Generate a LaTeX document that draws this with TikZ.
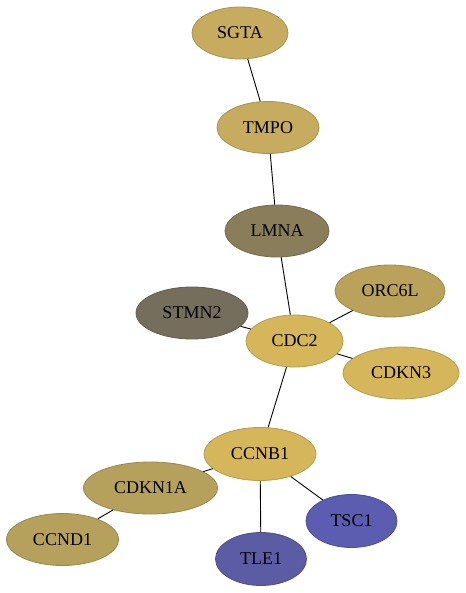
\documentclass[tikz,border=0pt]{standalone}
\usepackage{fontspec}
\setmainfont{Liberation Serif}
\usepackage{tikz}
\usepackage{xcolor}
\usetikzlibrary{shapes.geometric}

\definecolor{cgold}{HTML}{D6B65A}
\definecolor{ctan}{HTML}{C7AC5F}
\definecolor{corc}{HTML}{BBA25A}
\definecolor{ckhaki}{HTML}{B5A05C}
\definecolor{clmna}{HTML}{8A7D5A}
\definecolor{cstmn}{HTML}{756E5C}
\definecolor{ctsc}{HTML}{5C5CB0}
\definecolor{ctle}{HTML}{5C5CA4}

\tikzset{
  gene/.style={ellipse, draw=#1!85!black, fill=#1, line width=0.8pt, inner sep=0pt,
    minimum height=52pt, font=\fontsize{18}{18}\selectfont},
  link/.style={black, line width=0.9pt}
}

\begin{document}
\begin{tikzpicture}[x=1pt,y=-1pt]
\useasboundingbox (0,0) rectangle (465,593);

\node[gene=ctan, minimum width=96pt] (sgta) at (240,33) {SGTA};
\node[gene=ctan, minimum width=102pt] (tmpo) at (268,127.5) {TMPO};
\node[gene=clmna, minimum width=104pt] (lmna) at (277,231) {LMNA};
\node[gene=corc, minimum width=110pt] (orc6l) at (390,291) {ORC6L};
\node[gene=cstmn, minimum width=112pt] (stmn2) at (192,313) {STMN2};
\node[gene=cgold, minimum width=97pt] (cdc2) at (294.5,341) {CDC2};
\node[gene=cgold, minimum width=116pt] (cdkn3) at (401,373) {CDKN3};
\node[gene=cgold, minimum width=112pt, minimum height=53pt] (ccnb1) at (260,454) {CCNB1};
\node[gene=ckhaki, minimum width=134pt] (cdkn1a) at (150.5,488) {CDKN1A};
\node[gene=ckhaki, minimum width=112pt] (ccnd1) at (62.5,539.5) {CCND1};
\node[gene=ctsc, minimum width=91pt, minimum height=53pt] (tsc1) at (351.5,521) {TSC1};
\node[gene=ctle, minimum width=91pt, minimum height=53pt] (tle1) at (261,559) {TLE1};

% edges
\draw[link] (sgta) -- (tmpo);
\draw[link] (tmpo) -- (lmna);
\draw[link] (lmna) -- (cdc2);
\draw[link] (orc6l) -- (cdc2);
\draw[link] (stmn2) -- (cdc2);
\draw[link] (cdc2) -- (cdkn3);
\draw[link] (cdc2) -- (ccnb1);
\draw[link] (ccnb1) -- (cdkn1a);
\draw[link] (cdkn1a) -- (ccnd1);
\draw[link] (ccnb1) -- (tle1);
\draw[link] (ccnb1) -- (tsc1);
\end{tikzpicture}
\end{document}
